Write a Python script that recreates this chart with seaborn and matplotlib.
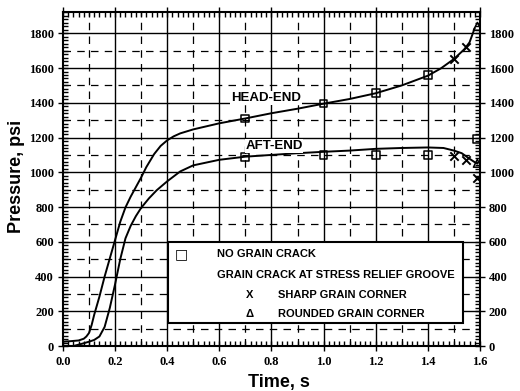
import matplotlib
matplotlib.use("Agg")
import matplotlib.pyplot as plt
import matplotlib.patches as patches
from matplotlib.ticker import MultipleLocator, FormatStrFormatter
import numpy as np
import seaborn as sns

# head-end pressure trace
head_t = [0.0, 0.03, 0.06, 0.08, 0.09, 0.10, 0.11, 0.12, 0.14, 0.16, 0.18, 0.20,
          0.22, 0.24, 0.26, 0.28, 0.30, 0.32, 0.35, 0.375, 0.40, 0.425, 0.45, 0.50,
          0.60, 0.70, 0.80, 0.90, 1.00, 1.10, 1.20, 1.30, 1.40, 1.45, 1.50, 1.54,
          1.56, 1.58]
head_p = [25, 28, 32, 42, 55, 75, 120, 180, 284, 400, 505, 610,
          715, 798, 860, 915, 970, 1030, 1105, 1152, 1184, 1207, 1224, 1247,
          1282, 1310, 1340, 1366, 1395, 1422, 1455, 1500, 1556, 1598, 1652, 1708,
          1748, 1830]

# aft-end pressure trace
aft_t = [0.0, 0.04, 0.06, 0.08, 0.10, 0.12, 0.14, 0.16, 0.18, 0.20, 0.22, 0.24,
         0.26, 0.28, 0.30, 0.33, 0.36, 0.40, 0.45, 0.50, 0.60, 0.70, 0.80, 0.90,
         1.00, 1.10, 1.20, 1.30, 1.40, 1.46, 1.50, 1.53, 1.56, 1.58, 1.59]
aft_p = [0, 0, 8, 16, 25, 35, 55, 110, 220, 355, 500, 620,
         692, 748, 795, 850, 897, 948, 1005, 1040, 1072, 1090, 1100, 1110,
         1118, 1125, 1135, 1140, 1143, 1140, 1125, 1110, 1078, 1058, 1050]

# measured points
sq_t = [0.70, 1.00, 1.20, 1.40, 0.70, 1.00, 1.20, 1.40, 1.59]
sq_p = [1310, 1396, 1454, 1559, 1088, 1098, 1100, 1102, 1192]
x_t = [1.50, 1.547, 1.50, 1.547, 1.59]
x_p = [1655, 1720, 1092, 1068, 968]
tri_t = [1.59, 1.59]
tri_p = [1840, 1052]

sns.set_style("ticks")
plt.rcParams["font.family"] = ["Liberation Sans", "DejaVu Sans"]
plt.rcParams["text.color"] = "black"
plt.rcParams["axes.labelcolor"] = "black"
plt.rcParams["xtick.color"] = "black"
plt.rcParams["ytick.color"] = "black"

fig = plt.figure(figsize=(5.2, 3.91), dpi=100)
ax = fig.add_axes([0.121, 0.115, 0.802, 0.854])

# grid: solid at majors, dashed at midpoints
for xv in np.arange(0.2, 1.5, 0.2):
    ax.axvline(xv, color="black", lw=1.0, zorder=1)
for yv in np.arange(200, 1801, 200):
    ax.axhline(yv, color="black", lw=1.0, zorder=1)
for xv in np.arange(0.1, 1.55, 0.2):
    ax.axvline(xv, color="black", lw=0.9, ls=(0, (6, 5)), zorder=1)
for yv in np.arange(100, 1750, 200):
    ax.axhline(yv, color="black", lw=0.9, ls=(0, (6, 5)), zorder=1)

sns.lineplot(x=head_t, y=head_p, color="black", lw=1.4, ax=ax, zorder=3)
sns.lineplot(x=aft_t, y=aft_p, color="black", lw=1.4, ax=ax, zorder=3)
sns.scatterplot(x=sq_t, y=sq_p, marker="s", s=32, fc="none", ec="black",
                linewidth=1.1, ax=ax, zorder=4)
sns.scatterplot(x=x_t, y=x_p, marker="x", s=36, color="black",
                linewidth=1.4, ax=ax, zorder=4)
sns.scatterplot(x=tri_t, y=tri_p, marker="^", s=32, fc="none", ec="black",
                linewidth=1.1, ax=ax, zorder=4)

ax.set_xlim(0, 1.6)
ax.set_ylim(0, 1922)
ax.xaxis.set_major_locator(MultipleLocator(0.2))
ax.xaxis.set_minor_locator(MultipleLocator(0.02))
ax.yaxis.set_major_locator(MultipleLocator(200))
ax.yaxis.set_minor_locator(MultipleLocator(20))
ax.xaxis.set_major_formatter(FormatStrFormatter("%.1f"))
ax.tick_params(which="both", top=True, right=True, labelright=True,
               width=1.0, color="black")
ax.tick_params(which="major", direction="inout", length=7)
ax.tick_params(which="minor", direction="in", length=3.5)
ax.tick_params(axis="x", pad=4)
ax.tick_params(axis="y", pad=3)
for t in ax.xaxis.get_major_ticks() + ax.yaxis.get_major_ticks():
    for lab in (t.label1, t.label2):
        lab.set_fontfamily("Liberation Serif")
        lab.set_fontweight("bold")
        lab.set_fontsize(9)
for sp in ax.spines.values():
    sp.set_linewidth(1.5)
    sp.set_color("black")

ax.set_xlabel("Time, s", fontsize=13, fontweight="bold")
ax.set_ylabel("Pressure, psi", fontsize=13, fontweight="bold")
ax.xaxis.set_label_coords(0.518, -0.085)
ax.yaxis.set_label_coords(-0.09, 0.507)

# curve labels
box = dict(fc="white", ec="none", pad=0.5)
ax.text(0.645, 1427, "HEAD-END", fontsize=9.5, fontweight="bold", va="center",
        ha="left", zorder=5, bbox=box)
ax.text(0.70, 1152, "AFT-END", fontsize=9.5, fontweight="bold", va="center",
        ha="left", zorder=5, bbox=box)

# legend box
ax.add_patch(patches.Rectangle((0.252, 0.069), 0.707, 0.242, transform=ax.transAxes,
                               fc="white", ec="black", lw=1.5, zorder=6))
kw = dict(transform=ax.transAxes, fontweight="bold", va="center", zorder=7)
ax.text(0.285, 0.275, "\u25a1", ha="center", fontsize=10, family=["DejaVu Sans"], **kw)
ax.text(0.369, 0.275, "NO GRAIN CRACK", ha="left", fontsize=8, **kw)
ax.text(0.369, 0.213, "GRAIN CRACK AT STRESS RELIEF GROOVE", ha="left", fontsize=8, **kw)
ax.text(0.448, 0.153, "X", ha="center", fontsize=8, **kw)
ax.text(0.516, 0.153, "SHARP GRAIN CORNER", ha="left", fontsize=8, **kw)
ax.text(0.448, 0.096, "\u0394", ha="center", fontsize=8, **kw)
ax.text(0.516, 0.096, "ROUNDED GRAIN CORNER", ha="left", fontsize=8, **kw)

fig.savefig("out.png", dpi=100)
